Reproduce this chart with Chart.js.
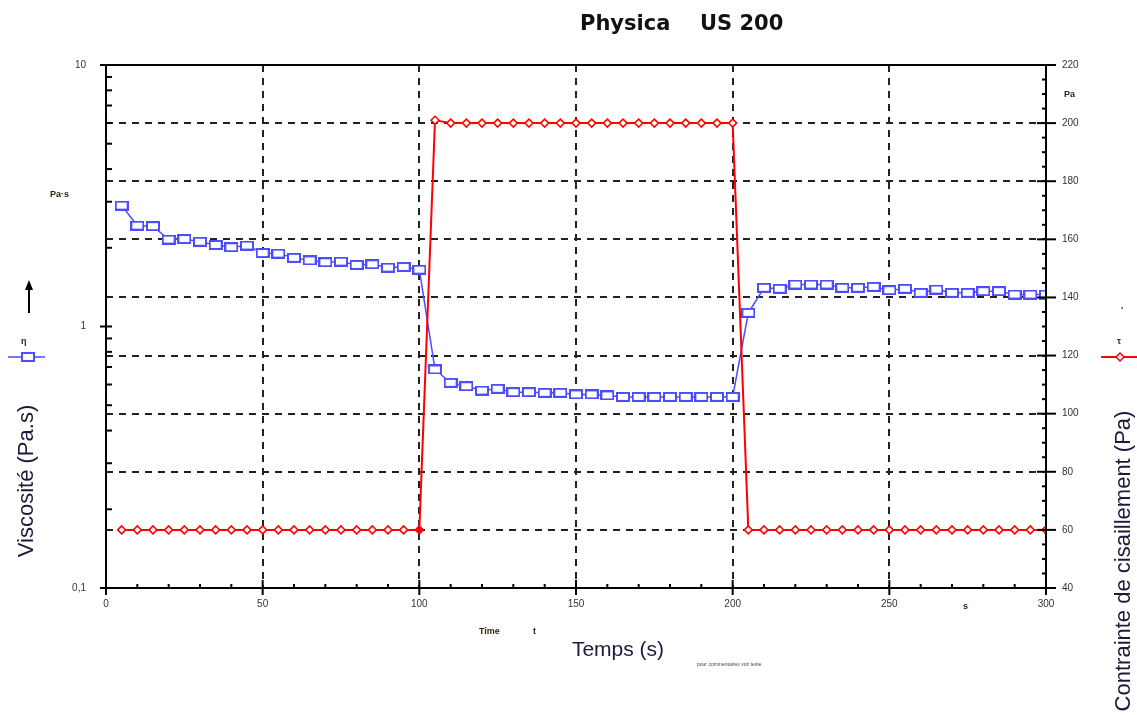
<!DOCTYPE html>
<html>
<head>
<meta charset="utf-8">
<script src="https://cdn.jsdelivr.net/npm/chart.js@4.4.1/dist/chart.umd.min.js"></script>
<style>
html,body{margin:0;padding:0;background:#fff;}
#wrap{position:relative;width:1137px;height:715px;}
</style>
</head>
<body>
<div id="wrap"><canvas id="c"></canvas></div>
<script>
// ---- Data ----
const times = [5,10,15,20,25,30,35,40,45,50,55,60,65,70,75,80,85,90,95,100,
               105,110,115,120,125,130,135,140,145,150,155,160,165,170,175,180,185,190,195,200,
               205,210,215,220,225,230,235,240,245,250,255,260,265,270,275,280,285,290,295,300];
const viscosity = [2.90,2.43,2.42,2.15,2.16,2.11,2.05,2.01,2.04,1.91,1.90,1.83,1.79,1.76,1.77,1.72,1.73,1.68,1.69,1.65,
                   0.685,0.609,0.591,0.569,0.578,0.561,0.561,0.558,0.558,0.550,0.550,0.545,0.538,0.538,0.538,0.538,0.538,0.538,0.538,0.538,
                   1.128,1.406,1.394,1.447,1.447,1.447,1.406,1.406,1.418,1.377,1.394,1.345,1.385,1.345,1.345,1.365,1.365,1.325,1.325,1.325];
const stress = [60,60,60,60,60,60,60,60,60,60,60,60,60,60,60,60,60,60,60,60,
                201,200,200,200,200,200,200,200,200,200,200,200,200,200,200,200,200,200,200,200,
                60,60,60,60,60,60,60,60,60,60,60,60,60,60,60,60,60,60,60,60];
const xTicks = [0,50,100,150,200,250,300];
const yLeftTicks = [0.1,1,10];
const yLeftLabels = ['0,1','1','10'];
const yRightTicks = [40,60,80,100,120,140,160,180,200,220];

const chartTitleA = 'Physica';
const chartTitleB = 'US 200';
const xTitle = 'Temps (s)';
const yLeftTitle = 'Viscosité (Pa.s)';
const yRightTitle = 'Contrainte de cisaillement (Pa)';

const BLUE = '#4d4dff';
const RED = '#ff0000';

// blue rectangular marker
const sq = document.createElement('canvas');
sq.width = 14; sq.height = 10;
(function(){
  const c = sq.getContext('2d');
  c.fillStyle = '#fff'; c.fillRect(1,1,12,8);
  c.strokeStyle = BLUE; c.lineWidth = 2; c.strokeRect(1,1,12,8);
})();

const tickFont = {family:'Liberation Sans, Arial, sans-serif', size:10};

const decor = {
  id:'decor',
  afterDraw(chart){
    const {ctx, chartArea:a, scales:{x,y,y2}} = chart;
    const line = (x1,y1,x2,y2_) => {ctx.beginPath();ctx.moveTo(x1,y1);ctx.lineTo(x2,y2_);ctx.stroke();};
    ctx.save();
    ctx.strokeStyle = '#000'; ctx.lineWidth = 2; ctx.setLineDash([]);
    // frame
    ctx.strokeRect(a.left, a.top, a.right-a.left, a.bottom-a.top);
    // x ticks
    for (let v=0; v<=300; v+=10){
      const px = x.getPixelForValue(v);
      if (v%50===0) line(px,a.bottom-8,px,a.bottom+7); else line(px,a.bottom-4,px,a.bottom);
    }
    // left log ticks
    [0.1,1].forEach(d=>{
      for (let m=1;m<=9;m++){
        const py = y.getPixelForValue(m*d);
        if (m===1) line(a.left-6,py,a.left+6,py); else line(a.left,py,a.left+6,py);
      }
    });
    {const py = y.getPixelForValue(10); line(a.left-6,py,a.left+6,py);}
    // right ticks
    for (let v=40; v<=220; v+=5){
      const py = y2.getPixelForValue(v);
      if (v%20===0) line(a.right-9,py,a.right+10,py); else line(a.right-4,py,a.right,py);
    }

    // texts
    ctx.fillStyle = '#111';
    ctx.textBaseline = 'alphabetic';
    ctx.font = 'bold 21px "DejaVu Sans", sans-serif';
    ctx.textAlign = 'left';
    ctx.fillText(chartTitleA, 580, 30);
    ctx.fillText(chartTitleB, 700, 30);

    ctx.font = '21px "Liberation Sans", Arial, sans-serif';
    ctx.fillStyle = '#1a1a3a';
    ctx.textAlign = 'center'; ctx.textBaseline = 'middle';
    ctx.fillText(xTitle, 618, 650);

    ctx.font = '22px "Liberation Sans", Arial, sans-serif';
    ctx.save();
    ctx.translate(27, 481); ctx.rotate(-Math.PI/2);
    ctx.fillText(yLeftTitle, 0, 0);
    ctx.restore();
    ctx.save();
    ctx.translate(1124, 561); ctx.rotate(-Math.PI/2);
    ctx.fillText(yRightTitle, 0, 0);
    ctx.restore();

    // unit labels
    ctx.fillStyle = '#332211';
    ctx.font = 'bold 9px "Liberation Sans", Arial, sans-serif';
    ctx.textAlign = 'left';
    ctx.fillText('Pa·s', 50, 195);
    ctx.fillText('Pa', 1064, 95);
    ctx.fillText('s', 963, 607);
    ctx.fillText('Time', 479, 632);
    ctx.fillText('t', 533, 632);
    ctx.fillText('η', 21, 342);
    ctx.fillText('τ', 1117, 342);
    ctx.fillText('\'', 1121, 311);
    ctx.font = '5px "Liberation Sans", Arial, sans-serif';
    ctx.fillStyle = '#444466';
    ctx.fillText('pour commentaires voir texte', 697, 665);

    // arrow
    ctx.strokeStyle = '#000'; ctx.lineWidth = 2;
    line(29, 313, 29, 286);
    ctx.fillStyle = '#000';
    ctx.beginPath(); ctx.moveTo(29,280); ctx.lineTo(25,290); ctx.lineTo(33,290); ctx.closePath(); ctx.fill();

    // left legend symbol
    ctx.strokeStyle = BLUE; ctx.lineWidth = 1.5;
    line(8, 357, 45, 357);
    ctx.drawImage(sq, 28-7, 357-5);
    // right legend symbol
    ctx.strokeStyle = RED; ctx.lineWidth = 2;
    line(1101, 357, 1137, 357);
    ctx.fillStyle = '#fff'; ctx.lineWidth = 1.5;
    ctx.beginPath(); ctx.moveTo(1120,353); ctx.lineTo(1124,357); ctx.lineTo(1120,361); ctx.lineTo(1116,357); ctx.closePath(); ctx.fill(); ctx.stroke();
    ctx.restore();
  }
};

new Chart(document.getElementById('c'), {
  type: 'line',
  data: {
    datasets: [
      {
        label: 'Contrainte de cisaillement',
        yAxisID: 'y2',
        data: times.map((t,i)=>({x:t, y:stress[i]})),
        borderColor: RED, borderWidth: 2,
        pointStyle: 'rectRot', pointRadius: 4,
        pointBackgroundColor: times.map(t => t===100 ? RED : '#fff'),
        pointBorderColor: RED, pointBorderWidth: 1.5,
        tension: 0, fill: false
      },
      {
        label: 'Viscosité',
        yAxisID: 'y',
        data: times.map((t,i)=>({x:t, y:viscosity[i]})),
        borderColor: BLUE, borderWidth: 1.5,
        pointStyle: sq, pointRadius: 6,
        tension: 0, fill: false
      }
    ]
  },
  options: {
    responsive: true, maintainAspectRatio: false, animation: false,
    layout: {padding: {top: 65, left: 0, right: 0, bottom: 0}},
    plugins: {legend: {display:false}, tooltip: {enabled:false}, title: {display:false}},
    scales: {
      x: {
        type: 'linear', position: 'bottom', min: 0, max: 300,
        afterBuildTicks: s => { s.ticks = xTicks.map(v=>({value:v})); },
        afterFit: s => { s.height = 127; },
        ticks: {font: tickFont, color:'#333', padding: 10, maxRotation: 0, autoSkip: false, callback: v => String(v)},
        grid: {color:'#222', lineWidth: 2, drawTicks: false},
        border: {display: true, color:'#000', width: 2, dash: [7,6]}
      },
      y: {
        type: 'logarithmic', position: 'left', min: 0.1, max: 10,
        afterBuildTicks: s => { s.ticks = yLeftTicks.map(v=>({value:v})); },
        afterFit: s => { s.width = 106; },
        ticks: {font: tickFont, color:'#333', padding: 20, autoSkip: false, callback: (v,i) => yLeftLabels[i]},
        grid: {display: true, drawOnChartArea: false, drawTicks: false},
        border: {display: true, color:'#000', width: 2}
      },
      y2: {
        type: 'linear', position: 'right', min: 40, max: 220,
        afterBuildTicks: s => { s.ticks = yRightTicks.map(v=>({value:v})); },
        afterFit: s => { s.width = 91; },
        ticks: {font: tickFont, color:'#333', padding: 16, autoSkip: false, callback: v => String(v)},
        grid: {color:'#222', lineWidth: 2, drawTicks: false, drawOnChartArea: true},
        border: {display: true, color:'#000', width: 2, dash: [7,6]}
      }
    }
  },
  plugins: [decor]
});
</script>
</body>
</html>
